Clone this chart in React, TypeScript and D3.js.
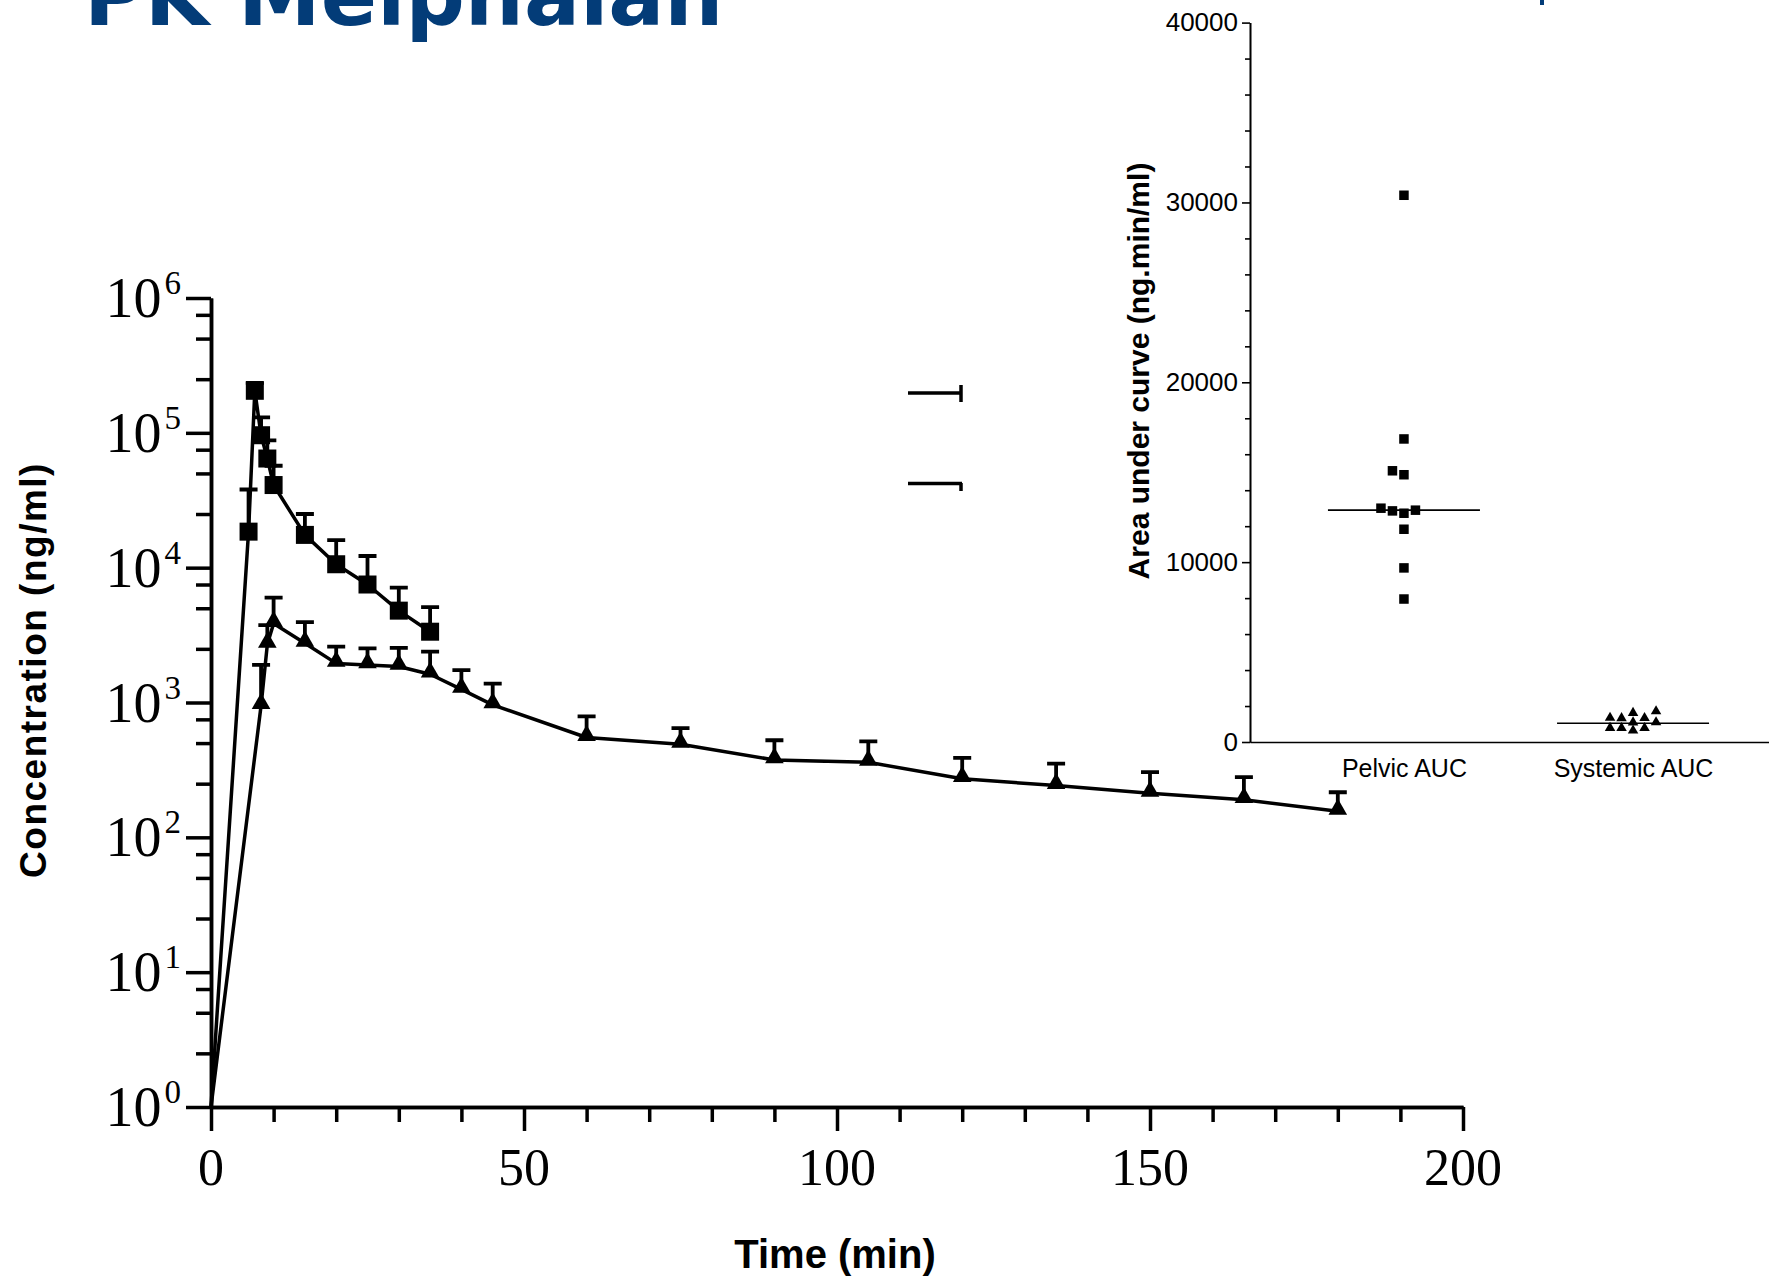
import React, { useRef, useEffect } from 'react';
import { select, scaleLinear, scaleLog, scalePoint, line, symbol, symbolTriangle, axisLeft, axisBottom, median } from 'd3';

// concentration-time profile, squares (pelvic) and triangles (systemic)
const sqTimes = [0, 6, 7, 8, 9, 10, 15, 20, 25, 30, 35];
const sqMeans = [1, 18500, 205000, 96000, 64500, 41000, 17500, 10600, 7500, 4800, 3350];
const sqUpper = [null, 38000, 235000, 130000, 88000, 57000, 25000, 16000, 12200, 7100, 5100];

const triTimes = [0, 8, 9, 10, 15, 20, 25, 30, 35, 40, 45, 60, 75, 90, 105, 120, 135, 150, 165, 180];
const triMeans = [1, 950, 2700, 3850, 2750, 1950, 1900, 1850, 1620, 1250, 960, 550, 490, 375, 360, 272, 242, 212, 190, 156];
const triUpper = [null, 1900, 3750, 6000, 3950, 2600, 2520, 2540, 2380, 1740, 1380, 790, 645, 525, 515, 388, 352, 305, 280, 216];

const xTicksMajor = [0, 50, 100, 150, 200];
const xTicksMinor = [10, 20, 30, 40, 60, 70, 80, 90, 110, 120, 130, 140, 160, 170, 180, 190];
const yExponents = [0, 1, 2, 3, 4, 5, 6];
const yMinorMantissas = [2.5, 5, 7.5];

// inset: AUC per patient
const aucCategories = ['Pelvic AUC', 'Systemic AUC'];
const pelvicAuc = [30400, 16850, 15080, 14860, 13000, 12850, 12890, 12720, 11830, 9680, 7950];
const systemicAuc = [1650, 1560, 1290, 1280, 1270, 1045, 1035, 730, 720, 725, 580];
const aucTicks = [0, 10000, 20000, 30000, 40000];

const BLUE = '#033c78';

// column scatter: spread points that overlap vertically into side slots
const swarm = (values, y, thresh) => {
  const slots = [0, -1, 1, -2, 2, -3, 3, -4, 4];
  const placed = [];
  const out = new Array(values.length).fill(0);
  values
    .map((v, i) => ({ v, i }))
    .sort((a, b) => a.v - b.v)
    .forEach(p => {
      const py = y(p.v);
      for (const s of slots) {
        if (!placed.some(q => q.s === s && Math.abs(q.y - py) < thresh)) {
          placed.push({ s, y: py });
          out[p.i] = s;
          break;
        }
      }
    });
  return out;
};

export default function App() {
  const svgRef = useRef(null);

  useEffect(() => {
    const svg = select(svgRef.current);
    svg.selectAll('*').remove();

    // title fragments
    svg.append('text')
      .attr('x', 84).attr('y', 25)
      .attr('font-family', 'DejaVu Sans').attr('font-weight', 'bold')
      .attr('font-size', 83).attr('fill', BLUE)
      .text('PK Melphalan');
    svg.append('rect').attr('x', 1540).attr('y', 0).attr('width', 4).attr('height', 5).attr('fill', BLUE);

    // ---------- main chart ----------
    const x = scaleLinear().domain([0, 200]).range([211, 1463]);
    const y = scaleLog().domain([1, 1e6]).range([1107, 298]);

    const g = svg.append('g');

    const yMinor = [];
    yExponents.slice(0, -1).forEach(e => yMinorMantissas.forEach(m => yMinor.push(m * Math.pow(10, e))));

    const styleAxis = sel => {
      sel.select('.domain').attr('stroke', '#000').attr('stroke-width', 3.5);
      sel.selectAll('.tick line').attr('stroke', '#000').attr('stroke-width', 3.5);
      sel.selectAll('.tick text').remove();
    };

    g.append('g').attr('transform', `translate(${x(0)},0)`)
      .call(axisLeft(y).tickValues(yMinor).tickSize(15).tickSizeOuter(0).tickFormat(() => ''))
      .call(styleAxis);
    g.append('g').attr('transform', `translate(${x(0)},0)`)
      .call(axisLeft(y).tickValues(yExponents.map(e => Math.pow(10, e))).tickSize(25).tickSizeOuter(0).tickFormat(() => ''))
      .call(styleAxis);
    g.append('g').attr('transform', `translate(0,${y(1)})`)
      .call(axisBottom(x).tickValues(xTicksMinor).tickSize(15).tickSizeOuter(0).tickFormat(() => ''))
      .call(styleAxis);
    g.append('g').attr('transform', `translate(0,${y(1)})`)
      .call(axisBottom(x).tickValues(xTicksMajor).tickSize(24).tickSizeOuter(0).tickFormat(() => ''))
      .call(styleAxis);

    // y tick labels 10^n
    const yl = g.selectAll('.ylab').data(yExponents).join('text')
      .attr('class', 'ylab')
      .attr('x', 181)
      .attr('y', e => y(Math.pow(10, e)) + 19)
      .attr('text-anchor', 'end')
      .attr('font-family', 'Liberation Serif')
      .attr('font-size', 56);
    yl.append('tspan').text('10');
    yl.append('tspan').attr('dx', 3).attr('dy', -23).attr('font-size', 33).text(e => e);

    g.selectAll('.xlab').data(xTicksMajor).join('text')
      .attr('class', 'xlab')
      .attr('x', d => x(d)).attr('y', 1185)
      .attr('text-anchor', 'middle')
      .attr('font-family', 'Liberation Serif')
      .attr('font-size', 52)
      .text(d => d);

    g.append('text')
      .attr('transform', 'translate(46,670) rotate(-90)')
      .attr('text-anchor', 'middle')
      .attr('font-family', 'Liberation Sans').attr('font-weight', 'bold')
      .attr('font-size', 37).attr('letter-spacing', 1.5)
      .text('Concentration (ng/ml)');
    g.append('text')
      .attr('x', 835).attr('y', 1268)
      .attr('text-anchor', 'middle')
      .attr('font-family', 'Liberation Sans').attr('font-weight', 'bold')
      .attr('font-size', 40)
      .text('Time (min)');

    const sqData = sqTimes.map((t, i) => ({ t, v: sqMeans[i], u: sqUpper[i] }));
    const triData = triTimes.map((t, i) => ({ t, v: triMeans[i], u: triUpper[i] }));
    const lineGen = line().x(d => x(d.t)).y(d => y(d.v));

    [sqData, triData].forEach(data => {
      g.append('path').datum(data)
        .attr('d', lineGen)
        .attr('fill', 'none').attr('stroke', '#000').attr('stroke-width', 3.5)
        .attr('stroke-linejoin', 'round');
      const eb = data.filter(d => d.u != null);
      g.selectAll(null).data(eb).join('path')
        .attr('d', d => `M${x(d.t)},${y(d.v)}V${y(d.u)}M${x(d.t) - 9},${y(d.u)}H${x(d.t) + 9}`)
        .attr('fill', 'none').attr('stroke', '#000').attr('stroke-width', 3.8);
    });

    g.selectAll('.sq').data(sqData.filter(d => d.u != null)).join('rect')
      .attr('class', 'sq')
      .attr('x', d => x(d.t) - 9).attr('y', d => y(d.v) - 9)
      .attr('width', 18).attr('height', 18).attr('fill', '#000');
    const triBig = symbol().type(symbolTriangle).size(150);
    g.selectAll('.tri').data(triData.filter(d => d.u != null)).join('path')
      .attr('class', 'tri')
      .attr('transform', d => `translate(${x(d.t)},${y(d.v) - 2})`)
      .attr('d', triBig).attr('fill', '#000');

    // legend remnants
    g.append('path').attr('d', 'M908,393H962M961,385V402').attr('fill', 'none').attr('stroke', '#000').attr('stroke-width', 3.5);
    g.append('path').attr('d', 'M908,483.5H962M961,483V491').attr('fill', 'none').attr('stroke', '#000').attr('stroke-width', 3.5);

    // ---------- inset ----------
    const xi = scalePoint().domain(aucCategories).range([1250, 1787]).padding(0.672);
    const yi = scaleLinear().domain([0, 40000]).range([742, 22.6]);
    const ig = svg.append('g');

    const aucMinor = [];
    for (let v = 2000; v < 40000; v += 2000) if (v % 10000) aucMinor.push(v);

    const styleInset = sel => {
      sel.select('.domain').attr('stroke', '#000').attr('stroke-width', 1.6);
      sel.selectAll('.tick line').attr('stroke', '#000').attr('stroke-width', 1.6);
    };
    ig.append('g').attr('transform', 'translate(1250,0)')
      .call(axisLeft(yi).tickValues(aucMinor).tickSize(5).tickSizeOuter(0).tickFormat(() => ''))
      .call(styleInset);
    ig.append('g').attr('transform', 'translate(1250,0)')
      .call(axisLeft(yi).tickValues(aucTicks).tickSize(8).tickSizeOuter(0).tickPadding(4).tickFormat(d => String(d)))
      .call(styleInset)
      .call(sel => sel.selectAll('.tick text')
        .attr('font-family', 'Liberation Sans').attr('font-size', 26).attr('fill', '#000'));
    ig.append('g').attr('transform', `translate(0,${yi(0)})`)
      .call(axisBottom(xi).tickSize(0).tickSizeOuter(0).tickPadding(17))
      .call(styleInset)
      .call(sel => sel.selectAll('.tick text')
        .attr('font-family', 'Liberation Sans').attr('font-size', 25).attr('fill', '#000'));

    ig.append('text')
      .attr('transform', 'translate(1149,371) rotate(-90)')
      .attr('text-anchor', 'middle')
      .attr('font-family', 'Liberation Sans').attr('font-weight', 'bold')
      .attr('font-size', 30)
      .text('Area under curve (ng.min/ml)');

    const slotW = 11.5;
    const groups = [
      { cat: aucCategories[0], vals: pelvicAuc, shape: 'sq' },
      { cat: aucCategories[1], vals: systemicAuc, shape: 'tri' }
    ];
    const triSmall = symbol().type(symbolTriangle).size(48);
    groups.forEach(grp => {
      const cx = xi(grp.cat);
      const med = median(grp.vals);
      ig.append('line')
        .attr('x1', cx - 76).attr('x2', cx + 76)
        .attr('y1', yi(med)).attr('y2', yi(med))
        .attr('stroke', '#000').attr('stroke-width', 1.6);
      const slots = swarm(grp.vals, yi, 8);
      const pts = grp.vals.map((v, i) => ({ v, s: slots[i] }));
      if (grp.shape === 'sq') {
        ig.selectAll(null).data(pts).join('rect')
          .attr('x', d => cx + d.s * slotW - 4.75).attr('y', d => yi(d.v) - 4.75)
          .attr('width', 9.5).attr('height', 9.5).attr('fill', '#000');
      } else {
        ig.selectAll(null).data(pts).join('path')
          .attr('transform', d => `translate(${cx + d.s * slotW},${yi(d.v) - 1})`)
          .attr('d', triSmall).attr('fill', '#000');
      }
    });
  }, []);

  return (
    <div style={{ position: 'absolute', left: 0, top: 0 }}>
      <svg ref={svgRef} width={1769} height={1277} style={{ display: 'block', background: '#fff' }} />
    </div>
  );
}
